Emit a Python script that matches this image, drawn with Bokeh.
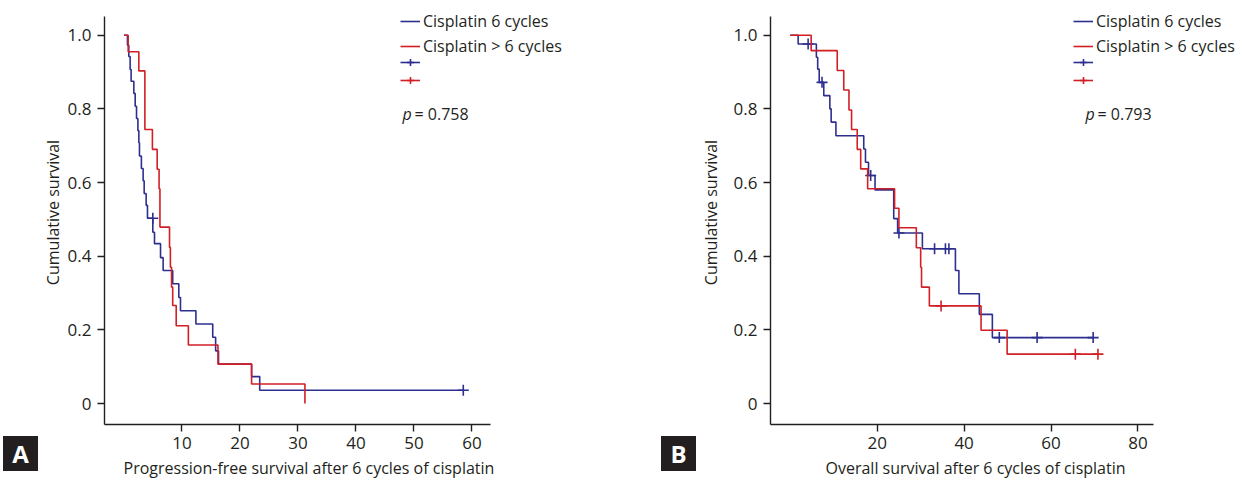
from bokeh.plotting import figure
from bokeh.models import Legend, LegendItem, Label, FixedTicker, Range1d, Div, Spacer, Title
from bokeh.layouts import row, column
from bokeh.embed import file_html
from bokeh.resources import INLINE

FONT = "Open Sans"
BLUE = "#2d2f8f"
RED = "#d21f26"
INK = "#231f20"

# ---------------- data (months, cumulative survival) ----------------
# Panel A: progression-free survival after 6 cycles of cisplatin
pfs_six_time = [0.6, 0.83, 1.06, 1.23, 1.7, 1.93, 2.16, 2.4, 2.56, 2.67, 3.0, 3.3, 3.48, 3.82, 4.05,
                4.97, 5.26, 6.3, 6.75, 8.4, 9.45, 9.74, 12.4, 15.3, 15.8, 16.3, 22.0, 23.4]
pfs_six_surv = [0.973, 0.942, 0.907, 0.875, 0.842, 0.807, 0.774, 0.741, 0.708, 0.672, 0.638, 0.605, 0.570,
                0.538, 0.503, 0.465, 0.434, 0.396, 0.361, 0.325, 0.288, 0.252, 0.216, 0.180, 0.143, 0.107,
                0.073, 0.036]
pfs_six_cens_time = [4.97, 58.5]
pfs_six_cens_surv = [0.503, 0.036]

pfs_more_time = [0.72, 2.56, 3.6, 4.9, 5.72, 6.05, 6.2, 7.85, 8.0, 8.2, 8.4, 9.0, 11.1, 16.2, 22.0, 31.2]
pfs_more_surv = [0.955, 0.903, 0.744, 0.690, 0.636, 0.583, 0.479, 0.424, 0.370, 0.316, 0.266, 0.211,
                 0.159, 0.107, 0.053, 0.0]
pfs_more_cens_time = []
pfs_more_cens_surv = []

# Panel B: overall survival after 6 cycles of cisplatin
os_six_time = [1.8, 6.0, 6.3, 6.65, 7.7, 9.1, 9.4, 10.5, 16.9, 17.3, 18.0, 19.5, 23.8, 24.7, 30.4,
               38.0, 38.8, 43.5, 46.5]
os_six_surv = [0.976, 0.940, 0.908, 0.872, 0.836, 0.800, 0.764, 0.727, 0.691, 0.655, 0.619, 0.580,
               0.502, 0.463, 0.420, 0.361, 0.298, 0.242, 0.179]
os_six_cens_time = [4.1, 7.3, 18.5, 25.0, 33.2, 35.7, 36.5, 48.1, 56.8, 69.7]
os_six_cens_surv = [0.976, 0.872, 0.619, 0.463, 0.420, 0.420, 0.420, 0.179, 0.179, 0.179]

os_more_time = [4.8, 10.8, 12.3, 13.5, 14.1, 15.4, 16.2, 17.8, 24.0, 25.0, 29.0, 30.0, 30.2, 32.0,
                43.9, 49.9]
os_more_surv = [0.958, 0.904, 0.851, 0.797, 0.744, 0.690, 0.637, 0.583, 0.530, 0.477, 0.423, 0.370,
                0.316, 0.265, 0.199, 0.134]
os_more_cens_time = [34.7, 65.6, 70.8]
os_more_cens_surv = [0.265, 0.134, 0.134]

series_labels = ["Cisplatin 6 cycles", "Cisplatin > 6 cycles"]
y_ticks = [0, 0.2, 0.4, 0.6, 0.8, 1.0]
y_tick_labels = ["0", "0.2", "0.4", "0.6", "0.8", "1.0"]
a_x_ticks = [10, 20, 30, 40, 50, 60]
b_x_ticks = [20, 40, 60, 80]
a_x_title = "Progression-free survival after 6 cycles of cisplatin"
b_x_title = "Overall survival after 6 cycles of cisplatin"
y_title = "Cumulative survival"
a_pvalue = "= 0.758"
b_pvalue = "= 0.793"

# vertical scale (shared): frame spans the full canvas height above the x axis
Y_LO, Y_AX_TOP, Y_HI = -0.0570, 1.0521, 1.0942
FIG_H = 482
BOTTOM = 58


def km_steps(times, surv, cens_times):
    end = max([times[-1]] + list(cens_times))
    return [0.0] + list(times) + [end], [1.0] + list(surv) + [surv[-1]]


def panel(width, left, x_start, x_axis_end, px_per_unit, x_ticks, x_title, title_offset,
          ylab_standoff, curves, leg_x, pval, pval_xy):
    frame_w = width - left
    x_end = x_start + frame_w / px_per_unit
    p = figure(width=width, height=FIG_H, output_backend="svg", toolbar_location=None, title=None,
               x_range=Range1d(x_start, x_end), y_range=Range1d(Y_LO, Y_HI),
               min_border_left=left, min_border_right=0, min_border_top=0, min_border_bottom=BOTTOM)
    p.outline_line_color = None
    p.grid.visible = False
    p.background_fill_color = "white"
    p.border_fill_color = "white"

    for ax in (p.xaxis[0], p.yaxis[0]):
        ax.axis_line_color = INK
        ax.axis_line_width = 1.4
        ax.major_tick_line_color = INK
        ax.major_tick_line_width = 1.4
        ax.major_tick_out = 7
        ax.major_tick_in = 0
        ax.minor_tick_line_color = None
        ax.major_label_text_font = FONT
        ax.major_label_text_font_size = "17px"
        ax.major_label_text_color = INK
        ax.axis_label_text_font = FONT
        ax.axis_label_text_font_size = "16px"
        ax.axis_label_text_font_style = "normal"
        ax.axis_label_text_color = INK

    p.xaxis.ticker = FixedTicker(ticks=x_ticks)
    p.xaxis.bounds = (x_start, x_axis_end)
    p.xaxis.major_label_standoff = 5

    p.add_layout(Title(text=x_title, align="left", offset=title_offset, standoff=6,
                       text_font=FONT, text_font_size="16px", text_font_style="normal",
                       text_color=INK), "below")

    p.yaxis.ticker = FixedTicker(ticks=y_ticks)
    p.yaxis.bounds = (Y_LO, Y_AX_TOP)
    p.yaxis.major_label_overrides = {t: s for t, s in zip(y_ticks, y_tick_labels)}
    p.yaxis.major_label_standoff = 6
    p.yaxis.axis_label = y_title
    p.yaxis.axis_label_standoff = ylab_standoff

    step_r, key_r = [], []
    for (t, s, ct, cs, col) in curves:
        xs, ys = km_steps(t, s, ct)
        r = p.step(xs, ys, mode="after", line_color=col, line_width=1.6)
        p.scatter(ct, cs, marker="cross", size=11, line_color=col, line_width=1.6)
        # zero-size cross on the curve's own points: invisible in the plot, used only for the legend key
        k = p.scatter(xs, ys, marker="cross", size=0, line_color=col, line_width=1.6)
        step_r.append(r)
        key_r.append(k)

    leg1 = Legend(items=[LegendItem(label=series_labels[i], renderers=[step_r[i]]) for i in range(2)],
                  location=(leg_x, 367), orientation="vertical", padding=0, spacing=3, margin=0,
                  glyph_width=20, glyph_height=20, label_height=20, label_standoff=3,
                  label_text_font=FONT, label_text_font_size="16px", label_text_color=INK,
                  border_line_color=None, background_fill_alpha=0)
    leg2 = Legend(items=[LegendItem(label=" ", renderers=[step_r[i], key_r[i]]) for i in range(2)],
                  location=(leg_x, 335), orientation="vertical", padding=0, spacing=0, margin=0,
                  glyph_width=20, glyph_height=18, label_height=18, label_standoff=3,
                  label_text_font=FONT, label_text_font_size="2px", label_text_color=INK,
                  border_line_color=None, background_fill_alpha=0)
    p.add_layout(leg1)
    p.add_layout(leg2)

    px, py = pval_xy
    p.add_layout(Label(x=px, y=py, x_units="screen", y_units="screen", text="p",
                       text_font=FONT, text_font_style="italic", text_font_size="16px",
                       text_color=INK, text_baseline="alphabetic"))
    p.add_layout(Label(x=px + 12, y=py, x_units="screen", y_units="screen", text=pval,
                       text_font=FONT, text_font_size="16px",
                       text_color=INK, text_baseline="alphabetic"))
    return p


def tag(letter):
    box = Div(text=letter, width=35, height=35, margin=0,
              styles={"background-color": INK, "color": "white", "font-family": FONT,
                      "font-weight": "bold", "font-size": "24px", "text-align": "center",
                      "line-height": "35px"})
    return column(Spacer(width=35, height=436, margin=0), box, margin=0, spacing=0)


pA = panel(623, 66, -3.36, 63.19, 5.8, a_x_ticks, a_x_title, 19, 1,
           [(pfs_six_time, pfs_six_surv, pfs_six_cens_time, pfs_six_cens_surv, BLUE),
            (pfs_more_time, pfs_more_surv, pfs_more_cens_time, pfs_more_cens_surv, RED)],
           296, a_pvalue, (298, 310.7))
pB = panel(546, 74, -4.56, 83.63, 4.345, b_x_ticks, b_x_title, 55, 9,
           [(os_six_time, os_six_surv, os_six_cens_time, os_six_cens_surv, BLUE),
            (os_more_time, os_more_surv, os_more_cens_time, os_more_cens_surv, RED)],
           303, b_pvalue, (315, 310.7))

layout = row(Spacer(width=3, height=10, margin=0), tag("A"), pA, tag("B"), pB, spacing=0)
open("out.html", "w").write(file_html(layout, INLINE))
